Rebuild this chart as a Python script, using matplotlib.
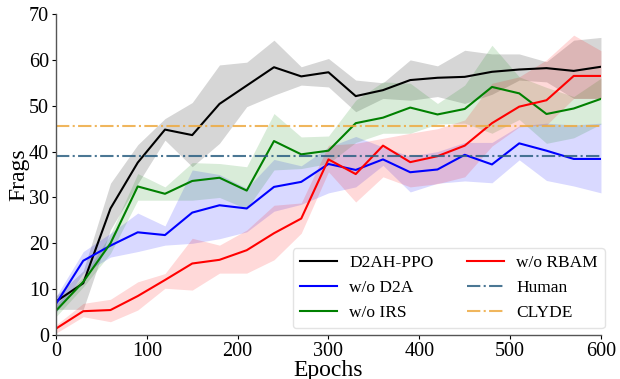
import matplotlib
matplotlib.use("Agg")
import matplotlib.pyplot as plt
import numpy as np

plt.rcParams['font.family'] = ['Liberation Serif', 'DejaVu Serif']

epochs = list(range(0, 601, 30))

d2ah = [7.3, 11.3, 27.6, 37.6, 44.8, 43.6, 50.4, 54.4, 58.4, 56.4, 57.3, 52.1, 53.4, 55.6, 56.1, 56.3, 57.4, 57.9, 58.2, 57.6, 58.5]
d2ah_lo = [5.6, 5.6, 23.0, 33.0, 42.5, 36.7, 41.8, 49.8, 52.3, 54.5, 54.1, 48.7, 51.6, 51.2, 52.0, 50.5, 52.5, 55.6, 55.2, 51.6, 51.6]
d2ah_hi = [8.5, 14.0, 33.1, 41.5, 47.2, 50.7, 58.9, 59.5, 64.3, 58.5, 60.3, 55.6, 55.0, 60.0, 58.7, 62.1, 61.3, 61.3, 59.6, 64.3, 64.9]

wo_d2a = [6.8, 16.2, 19.5, 22.4, 21.8, 26.7, 28.3, 27.6, 32.3, 33.4, 37.3, 36.0, 38.3, 35.5, 36.1, 39.3, 37.2, 41.8, 40.2, 38.4, 38.4]
wo_d2a_lo = [4.8, 13.5, 17.0, 18.2, 19.6, 20.0, 21.0, 22.5, 27.0, 28.5, 31.0, 32.3, 37.0, 31.2, 33.1, 33.6, 33.2, 38.2, 33.7, 32.5, 31.0]
wo_d2a_hi = [8.4, 18.2, 22.2, 26.6, 23.8, 36.0, 35.0, 32.0, 38.3, 36.9, 41.0, 43.3, 41.0, 39.0, 40.0, 42.0, 42.0, 45.6, 46.2, 45.8, 46.2]

wo_irs = [5.3, 11.6, 20.0, 32.4, 30.8, 33.6, 34.3, 31.5, 42.3, 39.4, 40.2, 46.2, 47.4, 49.6, 48.1, 49.3, 54.1, 52.7, 48.2, 49.4, 51.5]
wo_irs_lo = [4.0, 10.5, 17.8, 29.4, 29.4, 29.4, 30.0, 27.5, 36.0, 36.3, 37.4, 42.0, 44.0, 44.0, 46.0, 46.2, 44.0, 47.0, 41.8, 43.0, 46.0]
wo_irs_hi = [6.5, 12.7, 22.0, 35.2, 32.3, 37.6, 37.4, 36.7, 48.3, 43.2, 43.4, 51.2, 55.2, 54.9, 50.5, 54.5, 63.2, 56.3, 54.0, 52.0, 56.0]

wo_rbam = [1.4, 5.2, 5.45, 8.5, 12.0, 15.6, 16.4, 18.5, 22.2, 25.4, 38.3, 35.1, 41.3, 37.7, 39.0, 41.3, 46.2, 49.8, 51.2, 56.5, 56.5]
wo_rbam_lo = [0.4, 4.0, 2.9, 5.45, 10.2, 9.8, 13.5, 13.5, 16.4, 22.2, 35.6, 29.0, 34.5, 32.3, 33.0, 34.5, 41.2, 45.4, 45.8, 51.6, 51.6]
wo_rbam_hi = [2.2, 6.9, 7.8, 11.6, 13.4, 21.1, 19.6, 22.9, 28.3, 28.8, 41.4, 41.8, 42.9, 44.0, 45.0, 46.9, 54.9, 56.3, 60.0, 65.4, 62.0]

human_level = 39.0
clyde_level = 45.6

fig = plt.figure(figsize=(6.2, 3.79), dpi=100)
ax = fig.add_axes([0.0903, 0.116, 0.879, 0.847])

series = [
    ("D2AH-PPO", d2ah, d2ah_lo, d2ah_hi, "black"),
    ("w/o D2A", wo_d2a, wo_d2a_lo, wo_d2a_hi, "blue"),
    ("w/o IRS", wo_irs, wo_irs_lo, wo_irs_hi, "green"),
    ("w/o RBAM", wo_rbam, wo_rbam_lo, wo_rbam_hi, "red"),
]
alphas = {"black": 0.16, "blue": 0.15, "green": 0.15, "red": 0.15}
for name, m, lo, hi, c in series:
    ax.fill_between(epochs, lo, hi, color=c, alpha=alphas[c], linewidth=0)
for name, m, lo, hi, c in series:
    ax.plot(epochs, m, color=c, lw=1.5, label=name)

ax.axhline(human_level, color="#2b5f82", lw=1.5, ls="-.", alpha=0.85, label="Human")
ax.axhline(clyde_level, color="#eeaa40", lw=1.5, ls="-.", alpha=0.85, label="CLYDE")

ax.set_xlim(0, 600)
ax.set_ylim(0, 70)
ax.set_xticks(range(0, 601, 100))
ax.set_yticks(range(0, 71, 10))
ax.tick_params(labelsize=14.5, colors="black", width=0.8, length=3, pad=2)
for s in ["top", "right"]:
    ax.spines[s].set_visible(False)
for s in ["left", "bottom"]:
    ax.spines[s].set_color("#555555")
    ax.spines[s].set_linewidth(1.0)
ax.set_xlabel("Epochs", fontsize=17, labelpad=-1)
ax.set_ylabel("Frags", fontsize=17, labelpad=0)

handles, labels = ax.get_legend_handles_labels()
ax.legend(handles, labels, ncol=2, loc="lower right", fontsize=12.5,
          frameon=True, framealpha=0.8, edgecolor="#dddddd",
          handlelength=2.15, handletextpad=0.7, columnspacing=1.9,
          borderaxespad=0, bbox_to_anchor=(1.007, 0.022))

fig.savefig("out.png", dpi=100)
